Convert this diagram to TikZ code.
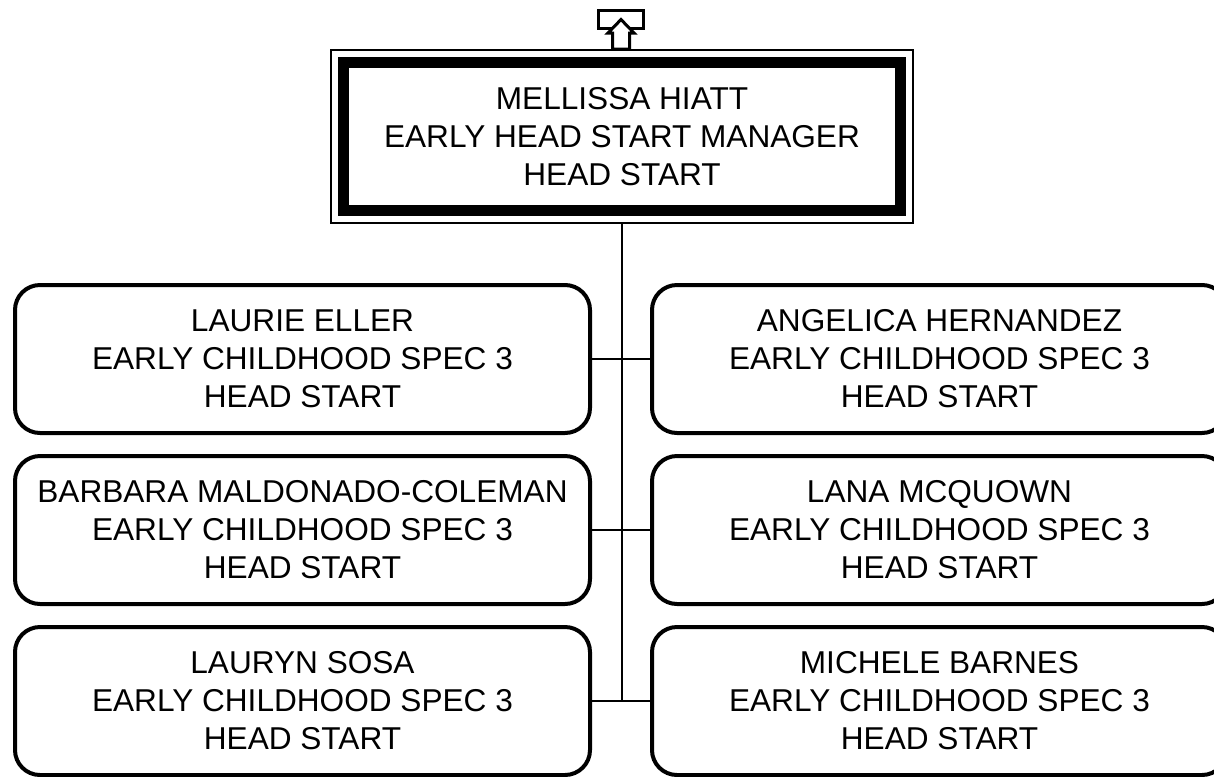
\documentclass[tikz,border=0pt]{standalone}
\usepackage{fontspec}
\setmainfont{Liberation Sans}
\begin{document}
\begin{tikzpicture}[x=0.75pt,y=-0.75pt,
  txt/.style={font=\fontsize{23.7}{28.5}\selectfont, align=center, inner sep=0pt, outer sep=0pt, text=black},
  person/.style={txt, draw=black, line width=3pt, rounded corners=18.75pt, minimum width=431.25pt, minimum height=111pt},
  mgrbox/.style={txt, draw=black, line width=8.25pt, minimum width=417.75pt, minimum height=111.4pt},
  mgrouter/.style={draw=black, line width=1.9pt, inner sep=0pt, outer sep=0pt, minimum width=436.5pt, minimum height=129.75pt},
  link/.style={draw=black, line width=1.1pt},
  uparrow/.style={draw=black, fill=white, line width=2.25pt, line join=miter}]
\useasboundingbox (0,0) rectangle (1214,776);
\clip (0,0) rectangle (1214,776);

% manager
\node[mgrouter] (mgrout) at (622,136.5) {};
\node[mgrbox] (mgr) at (622,136.5) {MELLISSA HIATT\\EARLY HEAD START MANAGER\\HEAD START};

% top marker
\node[draw=black, line width=2.25pt, inner sep=0pt, outer sep=0pt, minimum width=33.75pt, minimum height=13.5pt] (mark) at (621,19.5) {};
\draw[uparrow] (621,19.5) -- (634,33) -- (629.5,33) -- (629.5,49) -- (612.5,49) -- (612.5,33) -- (608,33) -- cycle;

% staff
\node[person] (l1) at (302.5,359) {LAURIE ELLER\\EARLY CHILDHOOD SPEC 3\\HEAD START};
\node[person] (l2) at (302.5,530) {BARBARA MALDONADO-COLEMAN\\EARLY CHILDHOOD SPEC 3\\HEAD START};
\node[person] (l3) at (302.5,701) {LAURYN SOSA\\EARLY CHILDHOOD SPEC 3\\HEAD START};
\node[person] (r1) at (939.5,359) {ANGELICA HERNANDEZ\\EARLY CHILDHOOD SPEC 3\\HEAD START};
\node[person] (r2) at (939.5,530) {LANA MCQUOWN\\EARLY CHILDHOOD SPEC 3\\HEAD START};
\node[person] (r3) at (939.5,701) {MICHELE BARNES\\EARLY CHILDHOOD SPEC 3\\HEAD START};

% connectors
\coordinate (junc) at (mgrout.south |- l3.east);
\draw[link] (mgrout.south) -- (junc);
\draw[link] (l1.east) -- (r1.west);
\draw[link] (l2.east) -- (r2.west);
\draw[link] (l3.east) -- (r3.west);
\end{tikzpicture}
\end{document}
